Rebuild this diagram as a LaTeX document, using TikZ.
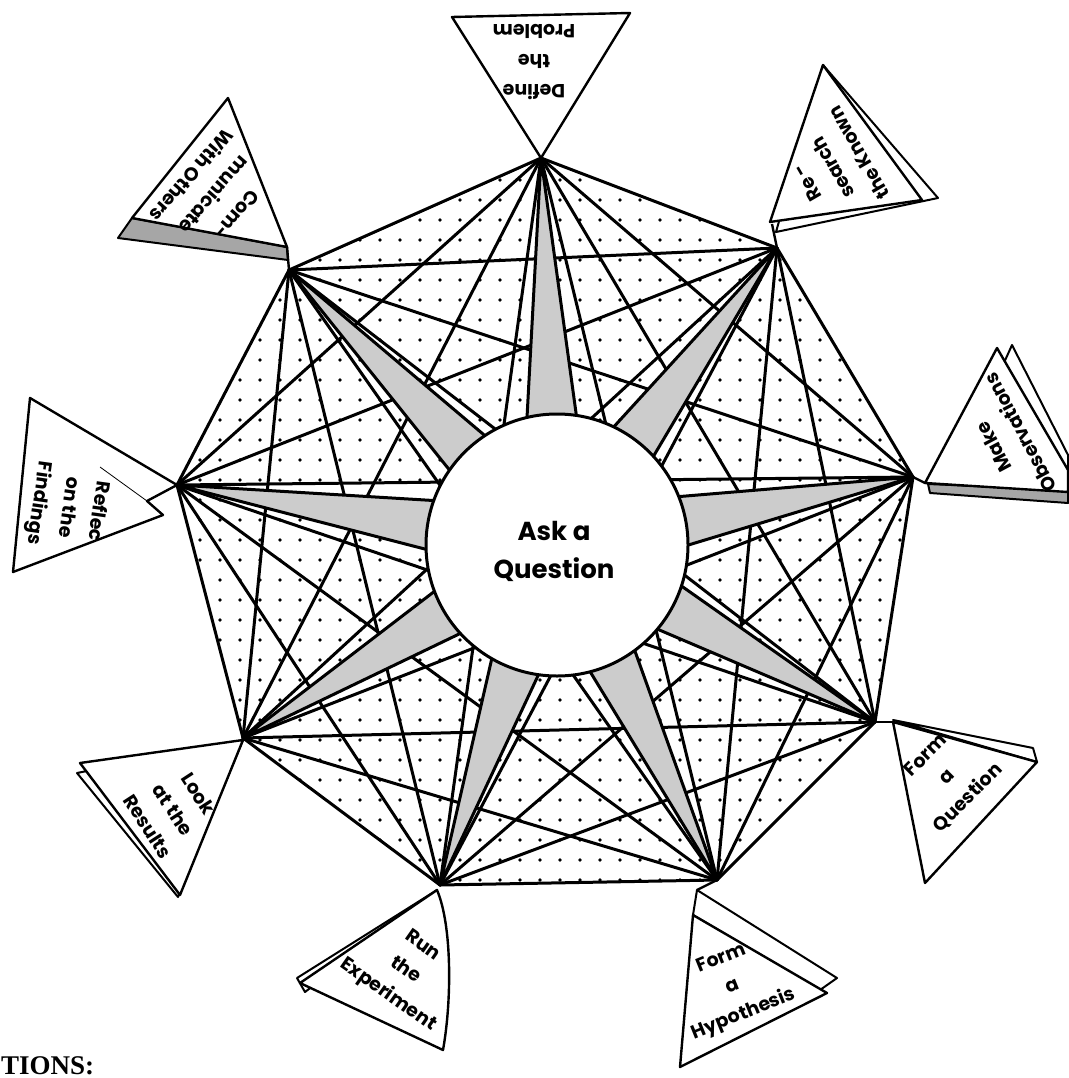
\documentclass[tikz,border=0pt]{standalone}
\usepackage{fontspec}
\newfontfamily\ff{Poppins}
\newfontfamily\hdfont{Liberation Serif}
\usetikzlibrary{calc}
\tikzset{
  edge/.style={line width=3pt, line cap=round},
  spike/.style={fill=black!20, draw, line width=3pt, line join=round},
  flag/.style={fill=white, draw, line width=2.4pt, line join=round},
  flagback/.style={fill=white, draw, line width=2pt, line join=round},
  flagshade/.style={fill=black!35, draw, line width=2pt, line join=round},
  tie/.style={line width=2.4pt},
  flagtxt/.style={font=\ff\bfseries\fontsize{19}{30}\selectfont, align=center, inner sep=0pt},
  hubtxt/.style={font=\ff\bfseries\fontsize{26}{38}\selectfont, align=center, inner sep=0pt},
}
\begin{document}
\begin{tikzpicture}[x=1pt,y=-1pt]
\useasboundingbox (0,0) rectangle (1068,1078);
\fill[white] (0,0) rectangle (1068,1078);
% vertices of the nonagon
\coordinate (v1) at (541,158);
\coordinate (v2) at (777,248);
\coordinate (v3) at (913,477);
\coordinate (v4) at (875,722);
\coordinate (v5) at (717,880);
\coordinate (v6) at (440,885);
\coordinate (v7) at (243,738);
\coordinate (v8) at (177,485);
\coordinate (v9) at (289,270);
\coordinate (c) at (557,545);
% dotted background
\begin{scope}
  \clip (v1) -- (v2) -- (v3) -- (v4) -- (v5) -- (v6) -- (v7) -- (v8) -- (v9) -- cycle;
  \foreach \x in {180,200,...,920} {
    \foreach \y in {160,180,...,890} {
      \fill (\x,\y) circle (1.9pt);
    }
  }
\end{scope}
% all sides and diagonals
\foreach \i in {1,...,9} {
  \foreach \j in {1,...,9} {
    \ifnum\i<\j
      \draw[edge] (v\i) -- (v\j);
    \fi
  }
}
% gray star points
\foreach \i in {1,...,9} {
  \draw[spike] (v\i) -- ($(c)!130pt!11:(v\i)$) -- (c) -- ($(c)!130pt!-11:(v\i)$) -- cycle;
}
% central circle
\node[circle, draw, fill=white, line width=3pt, minimum size=262pt, inner sep=0pt] (hub) at (c) {};
\node[hubtxt] (hubt) at (554,551) {Ask a\\Question};

% flag 1 : top
\draw[flag] (452,17) -- (630,13) -- (v1) -- cycle;
\node[flagtxt, rotate=180] (t1) at (534,62) {Define\\the\\Problem};

% flag 2 : upper right
\draw[flagback] (823,65) -- (938,198) -- (776,232) -- cycle;
\draw[flag] (823,65) -- (922,200) -- (770,222) -- cycle;
\coordinate (f2) at (772,224);
\draw[tie] (f2) -- (v2);
\node[flagtxt, rotate=120] (t2) at (833,168) {Re -\\search\\the Known};

% flag 3 : right
\draw[flagshade] (928,484) -- (1068,490) -- (1068,503) -- (930,493) -- cycle;
\draw[flagback] (1012,345) -- (1068,455) -- (1068,492) -- (960,460) -- cycle;
\draw[flag] (997,348) -- (925,483) -- (1068,492) -- (1068,470) -- cycle;
\coordinate (f3) at (925,483);
\draw[tie] (f3) -- (v3);
\node[flagtxt, rotate=118] (t3) at (1007,440) {Make\\Observations};

% flag 4 : lower right
\draw[flagback] (893,720) -- (1033,748) -- (1037,762) -- cycle;
\draw[flag] (893,722) -- (1037,762) -- (925,883) -- cycle;
\coordinate (f4) at (893,722);
\draw[tie] (f4) -- (v4);
\node[flagtxt, rotate=45] (t4) at (947,777) {Form\\a\\Question};

% flag 5 : bottom right
\draw[flagback] (697,890) -- (837,978) -- (820,990) -- (693,915) -- cycle;
\draw[flag] (693,915) -- (827,993) -- (680,1067) -- cycle;
\coordinate (f5) at (697,890);
\draw[tie] (f5) -- (v5);
\node[flagtxt, rotate=22] (t5) at (733,987) {Form\\a\\Hypothesis};

% flag 6 : bottom left
\draw[flagback] (437,890) -- (297,978) -- (305,992) -- cycle;
\draw[flag] (437,890) .. controls (452,925) and (452,1000) .. (443,1050) -- (300,983) -- cycle;
\node[flagtxt, rotate=-35] (t6) at (405,971) {Run\\the\\Experiment};

% flag 7 : left lower
\draw[flagback] (243,740) -- (77,773) -- (178,897) -- cycle;
\draw[flag] (243,740) -- (80,763) -- (180,895) -- cycle;
\node[flagtxt, rotate=-57] (t7) at (173,810) {Look\\at the\\Results};

% flag 8 : left
\draw[flag] (30,398) -- (v8) -- (147,501) -- (163,515) -- (13,572) -- cycle;
\draw[line width=0.8pt] (100,467) -- (147,501);
\node[flagtxt, rotate=-98] (t8) at (68,507) {Reflec\\on the\\Findings};

% flag 9 : upper left
\draw[flagshade] (132,218) -- (118,238) -- (288,260) -- (287,247) -- cycle;
\draw[flag] (228,98) -- (132,218) -- (287,247) -- cycle;
\coordinate (f9) at (287,247);
\draw[tie] (f9) -- (v9);
\node[flagtxt, rotate=-131] (t9) at (214,195) {Com-\\municate\\With Others};

% heading at the lower edge
\node[font=\hdfont\bfseries\fontsize{27}{32}\selectfont, anchor=base west, inner sep=0pt] (hd) at (1,1074) {TIONS:};
\end{tikzpicture}
\end{document}
